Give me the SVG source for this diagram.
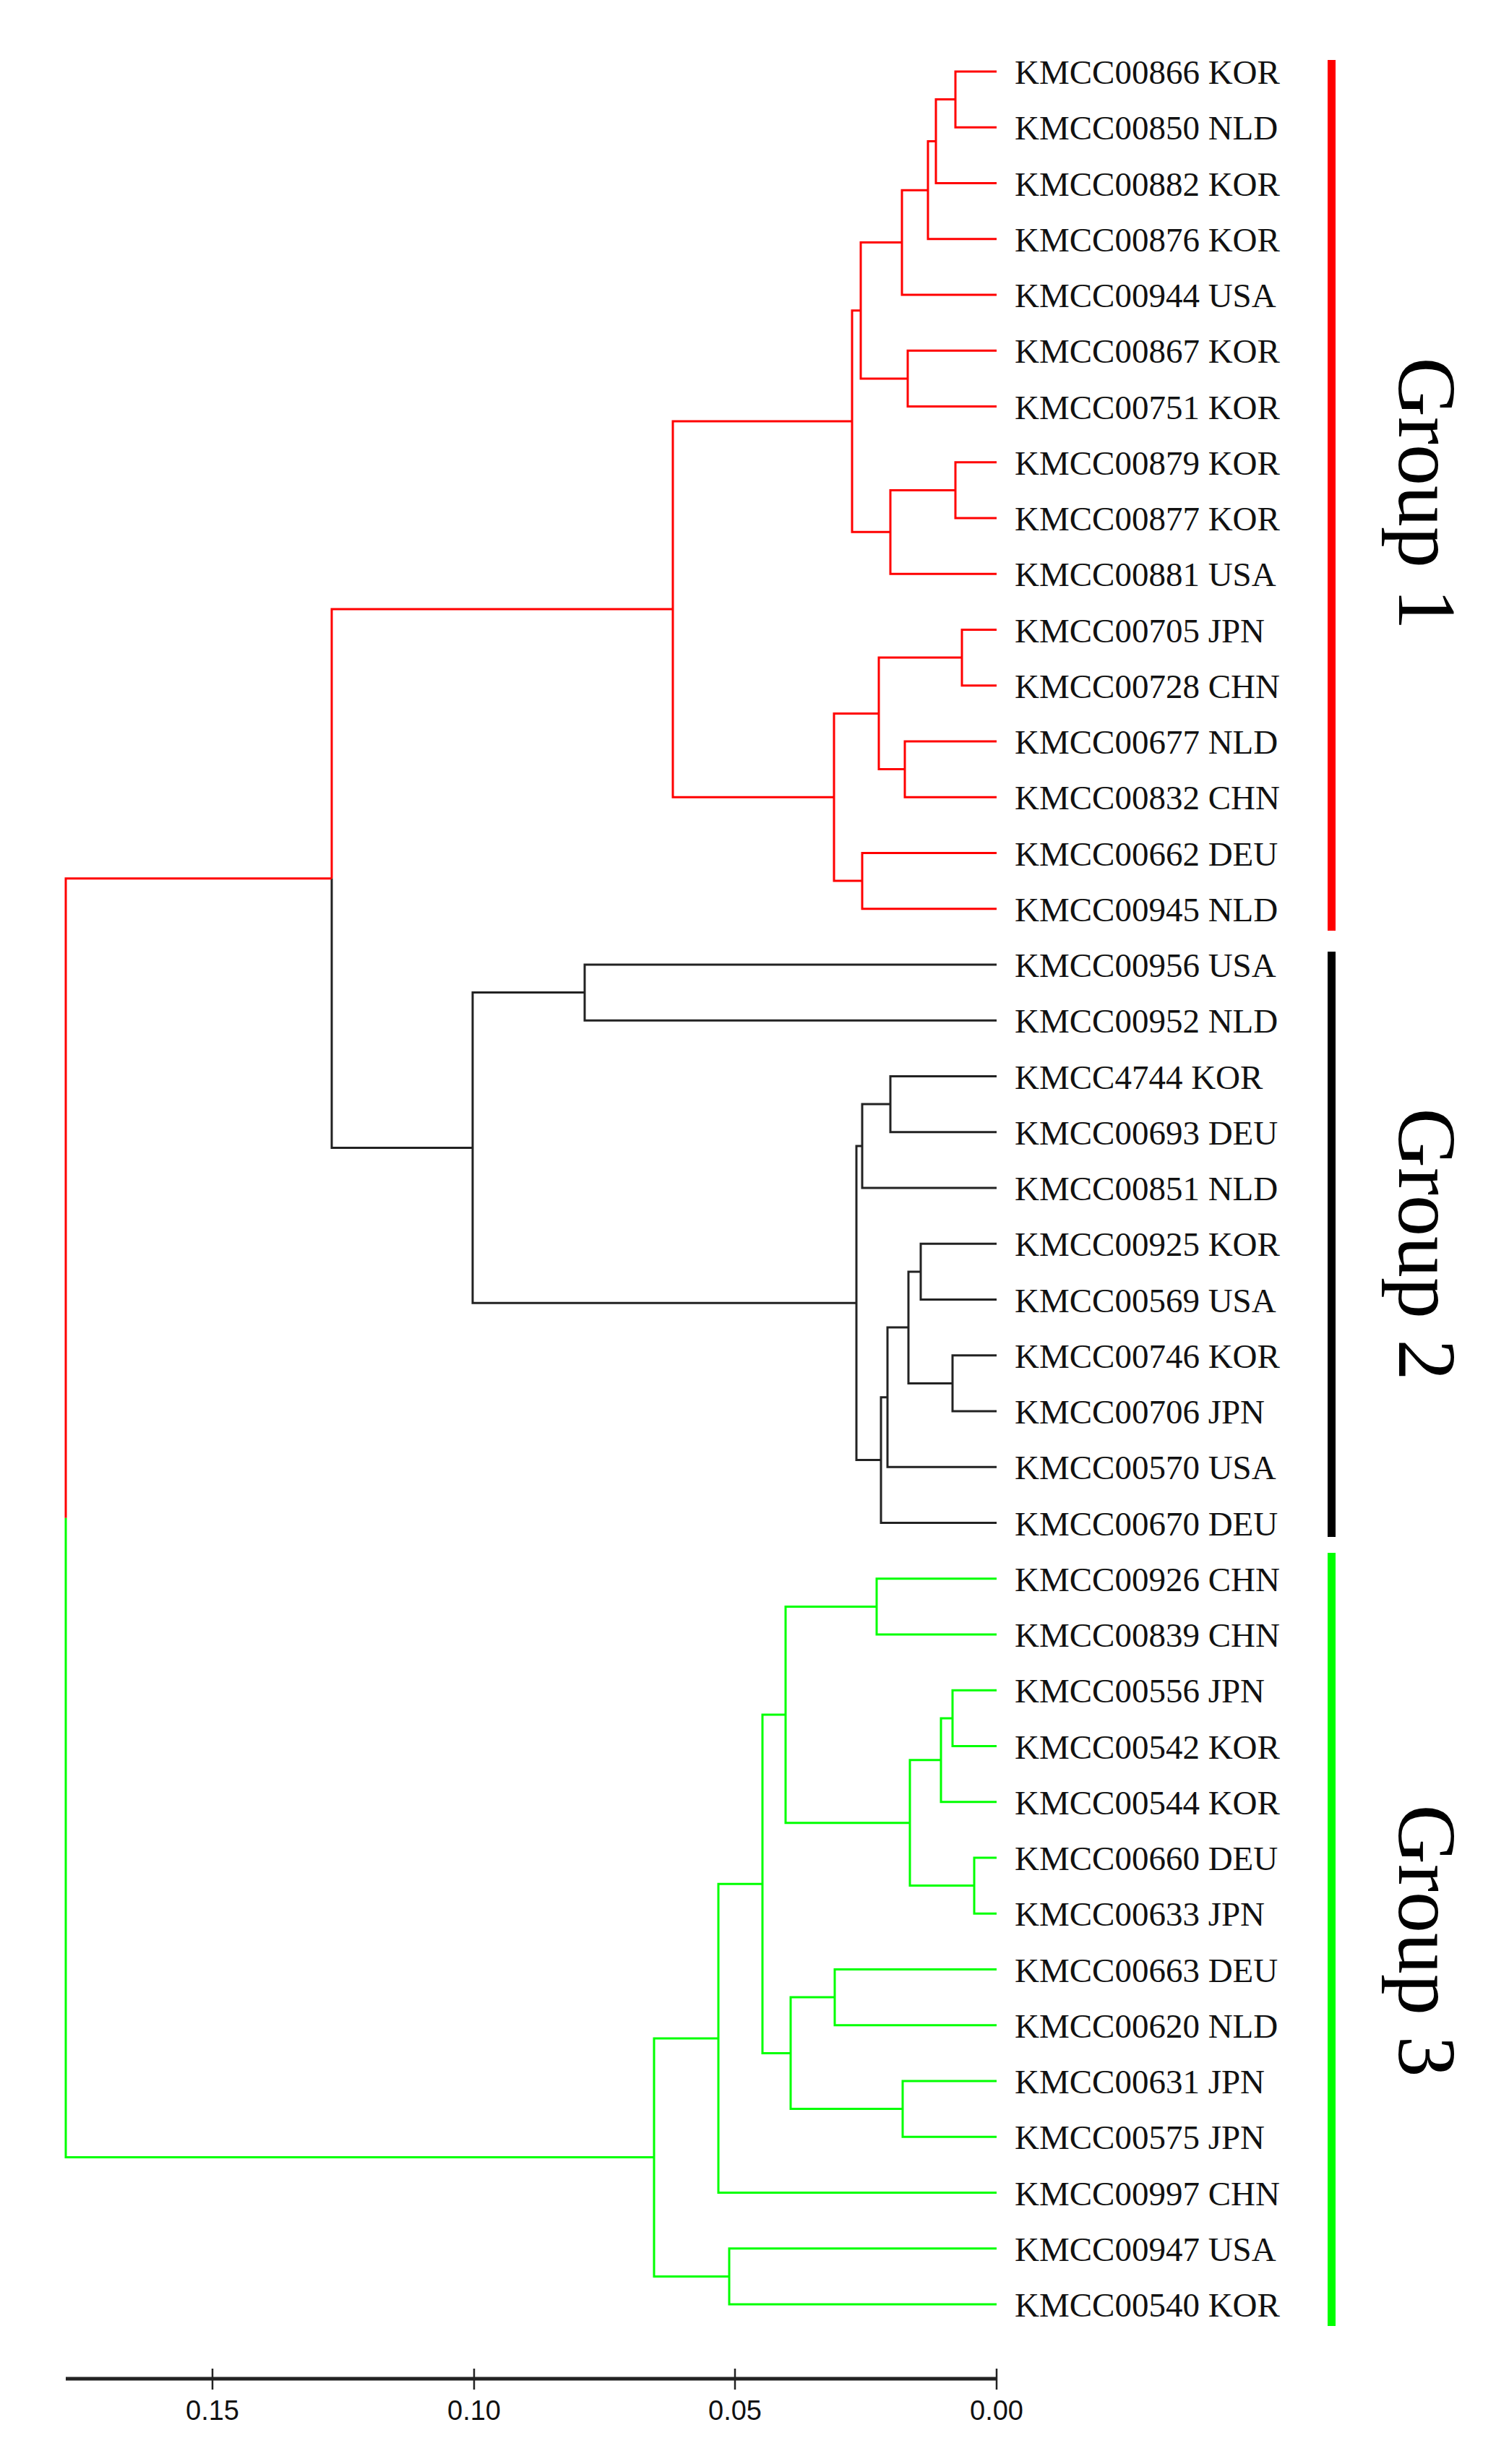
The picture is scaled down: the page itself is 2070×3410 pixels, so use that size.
<svg xmlns="http://www.w3.org/2000/svg" width="2070" height="3410" viewBox="0 0 2070 3410">
<style>
.r{fill:none;stroke:#ff0000;stroke-width:3}
.k{fill:none;stroke:#222222;stroke-width:3}
.g{fill:none;stroke:#00ff00;stroke-width:3}
.lbl{font-family:"Liberation Serif","Times New Roman",serif;font-size:47px;fill:#111}
.grp{font-family:"Liberation Serif","Times New Roman",serif;font-size:114px;fill:#000;text-anchor:middle}
.ax{font-family:"Liberation Sans Narrow","Liberation Sans",Arial,sans-serif;font-size:38px;fill:#111;text-anchor:middle}
</style>
<rect width="2070" height="3410" fill="#ffffff"/>
<g id="connectors">
<g id="group1-branches">
<path class="r" d="M1379 99 H1322 V176.25 H1379"/>
<path class="r" d="M1322 137.6 H1295 V253.5 H1379"/>
<path class="r" d="M1295 195.6 H1284 V330.75 H1379"/>
<path class="r" d="M1284 263.2 H1248 V408 H1379"/>
<path class="r" d="M1379 485.25 H1256 V562.5 H1379"/>
<path class="r" d="M1248 335.6 H1191 V523.9 H1256"/>
<path class="r" d="M1379 639.75 H1322 V717 H1379"/>
<path class="r" d="M1322 678.4 H1232 V794.25 H1379"/>
<path class="r" d="M1191 429.7 H1179 V736.3 H1232"/>
<path class="r" d="M1379 871.5 H1331 V948.75 H1379"/>
<path class="r" d="M1379 1026 H1252 V1103.25 H1379"/>
<path class="r" d="M1331 910.1 H1216 V1064.6 H1252"/>
<path class="r" d="M1379 1180.5 H1193 V1257.75 H1379"/>
<path class="r" d="M1216 987.4 H1154 V1219.1 H1193"/>
<path class="r" d="M1179 583 H931 V1103.3 H1154"/>
</g>
<g id="group2-branches">
<path class="k" d="M1379 1335 H809 V1412.25 H1379"/>
<path class="k" d="M1379 1489.5 H1232 V1566.75 H1379"/>
<path class="k" d="M1232 1528.1 H1193 V1644 H1379"/>
<path class="k" d="M1379 1721.25 H1274 V1798.5 H1379"/>
<path class="k" d="M1379 1875.75 H1318 V1953 H1379"/>
<path class="k" d="M1274 1759.9 H1257 V1914.4 H1318"/>
<path class="k" d="M1257 1837.1 H1228 V2030.25 H1379"/>
<path class="k" d="M1228 1933.7 H1219 V2107.5 H1379"/>
<path class="k" d="M1193 1586 H1185 V2020.6 H1219"/>
<path class="k" d="M809 1373.6 H654 V1803.3 H1185"/>
</g>
<g id="group3-branches">
<path class="g" d="M1379 2184.75 H1213 V2262 H1379"/>
<path class="g" d="M1379 2339.25 H1318 V2416.5 H1379"/>
<path class="g" d="M1318 2377.9 H1302 V2493.75 H1379"/>
<path class="g" d="M1379 2571 H1348 V2648.25 H1379"/>
<path class="g" d="M1302 2435.8 H1259 V2609.6 H1348"/>
<path class="g" d="M1213 2223.4 H1087 V2522.7 H1259"/>
<path class="g" d="M1379 2725.5 H1155 V2802.75 H1379"/>
<path class="g" d="M1379 2880 H1249 V2957.25 H1379"/>
<path class="g" d="M1155 2764.1 H1094 V2918.6 H1249"/>
<path class="g" d="M1087 2373 H1055 V2841.4 H1094"/>
<path class="g" d="M1055 2607.2 H994 V3034.5 H1379"/>
<path class="g" d="M1379 3111.75 H1009 V3189 H1379"/>
<path class="g" d="M994 2820.9 H905 V3150.4 H1009"/>
</g>
<g id="root-branches">
<path class="r" d="M931 843.1 H459 V1215.8"/>
<path class="k" d="M459 1215.8 V1588.5 H654"/>
<path class="r" d="M459 1215.8 H91 V2100.7"/>
<path class="g" d="M91 2100.7 V2985.6 H905"/>
</g>
</g>
<g id="labels">
<text class="lbl" x="1404" y="116">KMCC00866 KOR</text>
<text class="lbl" x="1404" y="193.25">KMCC00850 NLD</text>
<text class="lbl" x="1404" y="270.5">KMCC00882 KOR</text>
<text class="lbl" x="1404" y="347.75">KMCC00876 KOR</text>
<text class="lbl" x="1404" y="425">KMCC00944 USA</text>
<text class="lbl" x="1404" y="502.25">KMCC00867 KOR</text>
<text class="lbl" x="1404" y="579.5">KMCC00751 KOR</text>
<text class="lbl" x="1404" y="656.75">KMCC00879 KOR</text>
<text class="lbl" x="1404" y="734">KMCC00877 KOR</text>
<text class="lbl" x="1404" y="811.25">KMCC00881 USA</text>
<text class="lbl" x="1404" y="888.5">KMCC00705 JPN</text>
<text class="lbl" x="1404" y="965.75">KMCC00728 CHN</text>
<text class="lbl" x="1404" y="1043">KMCC00677 NLD</text>
<text class="lbl" x="1404" y="1120.25">KMCC00832 CHN</text>
<text class="lbl" x="1404" y="1197.5">KMCC00662 DEU</text>
<text class="lbl" x="1404" y="1274.75">KMCC00945 NLD</text>
<text class="lbl" x="1404" y="1352">KMCC00956 USA</text>
<text class="lbl" x="1404" y="1429.25">KMCC00952 NLD</text>
<text class="lbl" x="1404" y="1506.5">KMCC4744 KOR</text>
<text class="lbl" x="1404" y="1583.75">KMCC00693 DEU</text>
<text class="lbl" x="1404" y="1661">KMCC00851 NLD</text>
<text class="lbl" x="1404" y="1738.25">KMCC00925 KOR</text>
<text class="lbl" x="1404" y="1815.5">KMCC00569 USA</text>
<text class="lbl" x="1404" y="1892.75">KMCC00746 KOR</text>
<text class="lbl" x="1404" y="1970">KMCC00706 JPN</text>
<text class="lbl" x="1404" y="2047.25">KMCC00570 USA</text>
<text class="lbl" x="1404" y="2124.5">KMCC00670 DEU</text>
<text class="lbl" x="1404" y="2201.75">KMCC00926 CHN</text>
<text class="lbl" x="1404" y="2279">KMCC00839 CHN</text>
<text class="lbl" x="1404" y="2356.25">KMCC00556 JPN</text>
<text class="lbl" x="1404" y="2433.5">KMCC00542 KOR</text>
<text class="lbl" x="1404" y="2510.75">KMCC00544 KOR</text>
<text class="lbl" x="1404" y="2588">KMCC00660 DEU</text>
<text class="lbl" x="1404" y="2665.25">KMCC00633 JPN</text>
<text class="lbl" x="1404" y="2742.5">KMCC00663 DEU</text>
<text class="lbl" x="1404" y="2819.75">KMCC00620 NLD</text>
<text class="lbl" x="1404" y="2897">KMCC00631 JPN</text>
<text class="lbl" x="1404" y="2974.25">KMCC00575 JPN</text>
<text class="lbl" x="1404" y="3051.5">KMCC00997 CHN</text>
<text class="lbl" x="1404" y="3128.75">KMCC00947 USA</text>
<text class="lbl" x="1404" y="3206">KMCC00540 KOR</text>
</g>
<g id="group1">
<rect x="1837" y="83" width="11" height="1205" fill="#ff0000"/>
<text class="grp" transform="translate(1936 683) rotate(90)">Group 1</text>
</g>
<g id="group2">
<rect x="1837" y="1317" width="11" height="810" fill="#000000"/>
<text class="grp" transform="translate(1936 1722) rotate(90)">Group 2</text>
</g>
<g id="group3">
<rect x="1837" y="2149" width="11" height="1070" fill="#00ff00"/>
<text class="grp" transform="translate(1936 2686) rotate(90)">Group 3</text>
</g>
<g id="axis">
<path d="M91 3292 H1379" fill="none" stroke="#222" stroke-width="5"/>
<path d="M294 3278 V3307 M656 3278 V3307 M1017 3278 V3307 M1379 3278 V3307" fill="none" stroke="#222" stroke-width="2.5"/>
<text class="ax" x="294" y="3349">0.15</text>
<text class="ax" x="656" y="3349">0.10</text>
<text class="ax" x="1017" y="3349">0.05</text>
<text class="ax" x="1379" y="3349">0.00</text>
</g>
</svg>
